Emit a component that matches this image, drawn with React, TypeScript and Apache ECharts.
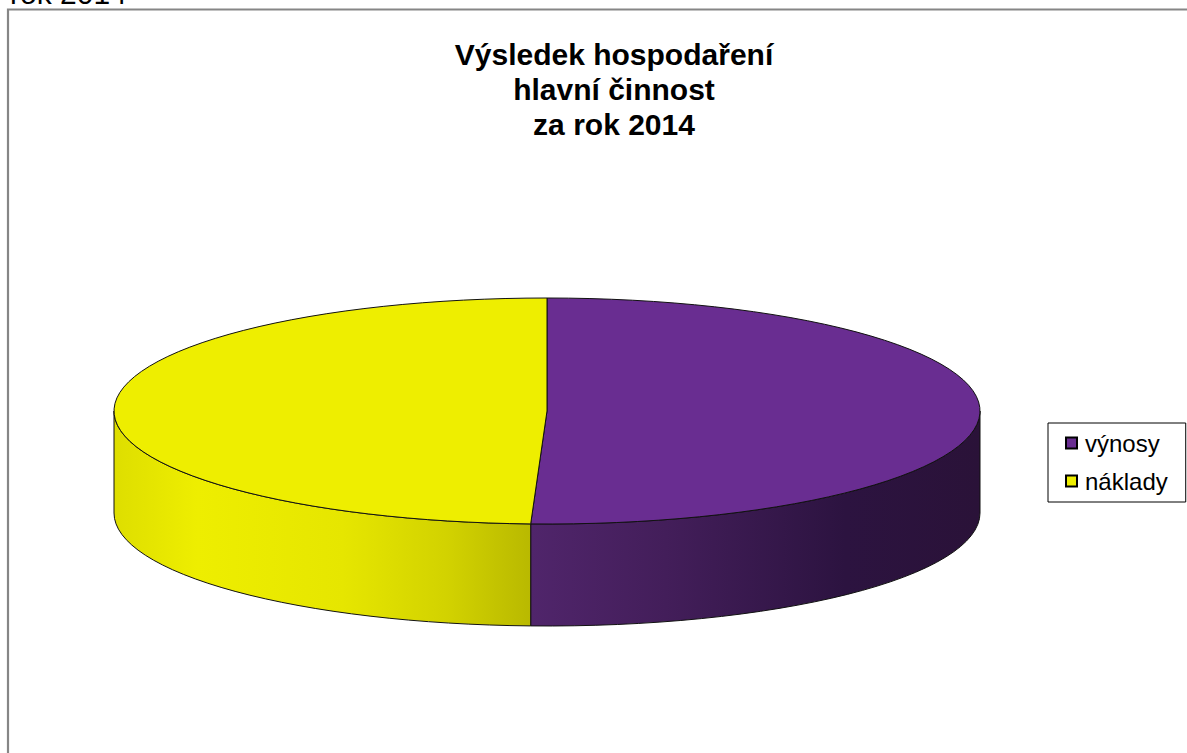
import React, { useEffect, useRef } from "react";
import * as echarts from "echarts";

const categories = ["výnosy", "náklady"];
const values = [50.6, 49.4];
const colors = ["#692d91", "#eeee00"];
const titleLines = ["Výsledek hospodaření", "hlavní činnost", "za rok 2014"];
const clippedHeading = "rok 2014";

const CX = 547;
const CY = 411;
const RX = 433;
const RY = 113;
const DEPTH = 102;

const wallStops = [
  [
    { offset: 0, color: "#50256b" },
    { offset: 0.3, color: "#431e5a" },
    { offset: 0.7, color: "#2c1340" },
    { offset: 1, color: "#2a1238" },
  ],
  [
    { offset: 0, color: "#dede00" },
    { offset: 0.2, color: "#eeee00" },
    { offset: 0.55, color: "#e6e600" },
    { offset: 0.8, color: "#d2d200" },
    { offset: 1, color: "#b9b900" },
  ],
];

const pt = (deg: number, dy = 0) => {
  const t = (deg * Math.PI) / 180;
  return [CX + RX * Math.sin(t), CY - RY * Math.cos(t) + dy];
};
const arcTo = (from: number, to: number, dy = 0) => {
  const [x, y] = pt(to, dy);
  const large = Math.abs(to - from) > 180 ? 1 : 0;
  const sweep = to > from ? 1 : 0;
  return `A ${RX} ${RY} 0 ${large} ${sweep} ${x} ${y}`;
};

const total = values.reduce((a, b) => a + b, 0);

function sliceRenderer(index: number) {
  return (_params: any, api: any) => {
    const before = values.slice(0, index).reduce((a, b) => a + b, 0);
    const start = (before / total) * 360;
    const end = start + (api.value(0) / total) * 360;
    const wallA = Math.max(start, 90);
    const wallB = Math.min(end, 270);
    const [ax, ay] = pt(wallA);
    const [bx, by] = pt(wallB, DEPTH);
    const [wx0] = pt(wallB);
    const [wx1] = pt(wallA);
    const line = { stroke: "#111", lineWidth: 1 };
    const wallD = `M ${ax} ${ay} ${arcTo(wallA, wallB)} L ${bx} ${by} ${arcTo(wallB, wallA, DEPTH)} Z`;
    const [sx, sy] = pt(start);
    const topD = `M ${CX} ${CY} L ${sx} ${sy} ${arcTo(start, end)} Z`;
    const gradient = { type: "linear", global: true, x: wx0, y: 0, x2: wx1, y2: 0, colorStops: wallStops[index] };
    return {
      type: "group",
      children: [
        { type: "path", shape: { pathData: wallD }, style: { fill: gradient, ...line } },
        { type: "path", shape: { pathData: topD }, style: { fill: colors[index], ...line } },
      ],
    };
  };
}

export default function App() {
  const ref = useRef<HTMLDivElement>(null);
  useEffect(() => {
    const chart = echarts.init(ref.current!, null, { renderer: "svg" });
    chart.setOption({
      animation: false,
      backgroundColor: "#ffffff",
      title: {
        text: titleLines.join("\n"),
        left: 609,
        top: 32,
        textAlign: "center",
        textStyle: {
          fontFamily: "Liberation Sans",
          fontSize: 30,
          fontWeight: "bold",
          color: "#000",
          lineHeight: 35,
        },
      },
      legend: {
        left: 1048,
        top: 423,
        orient: "vertical",
        selectedMode: false,
        backgroundColor: "#fff",
        borderColor: "#000",
        borderWidth: 1,
        padding: [8, 18, 9, 17],
        itemWidth: 11,
        itemHeight: 11,
        itemGap: 14,
        textStyle: { fontFamily: "Liberation Sans", fontSize: 24, color: "#000", padding: [0, 0, 0, 3] },
        data: categories.map((name, i) => ({
          name,
          icon: "rect",
          itemStyle: { color: colors[i], borderColor: "#000", borderWidth: 2 },
        })),
      },
      graphic: [
        {
          type: "text",
          x: 10,
          y: 8,
          style: {
            text: clippedHeading,
            font: "30px 'Liberation Sans'",
            fill: "#000",
            textVerticalAlign: "bottom",
          },
        },
        {
          type: "rect",
          silent: true,
          shape: { x: 8, y: 9.5, width: 1400, height: 1000 },
          style: { fill: "none", stroke: "#868686", lineWidth: 2.2 },
        },
      ],
      series: categories.map((name, i) => ({
        type: "custom",
        name,
        coordinateSystem: "none",
        silent: true,
        itemStyle: { color: colors[i] },
        data: [[values[i]]],
        renderItem: sliceRenderer(i),
        z: i === 0 ? 2 : 3,
      })),
    });
    return () => chart.dispose();
  }, []);
  return <div ref={ref} style={{ position: "absolute", left: 0, top: 0, width: 1187, height: 753 }} />;
}
